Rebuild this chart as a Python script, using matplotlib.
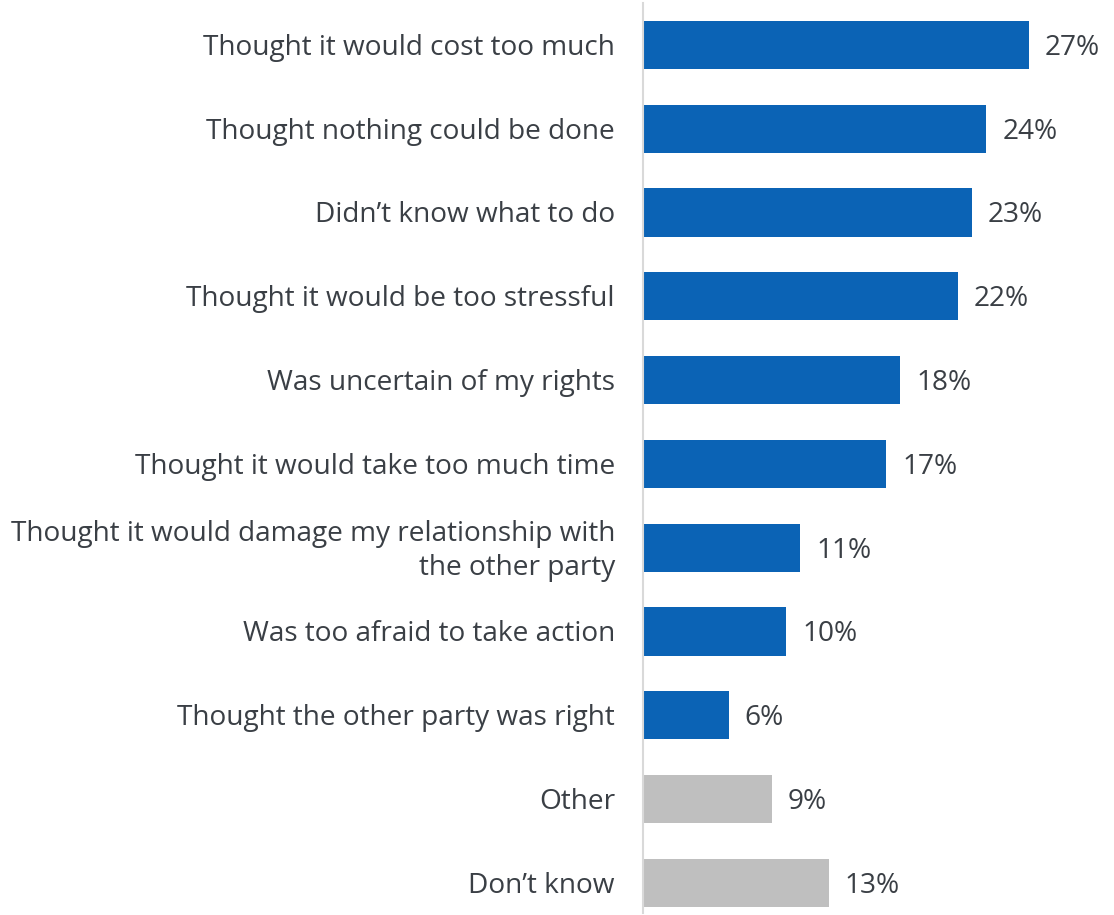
import matplotlib
matplotlib.use("Agg")
import matplotlib.pyplot as plt

categories = [
    "Thought it would cost too much",
    "Thought nothing could be done",
    "Didn\u2019t know what to do",
    "Thought it would be too stressful",
    "Was uncertain of my rights",
    "Thought it would take too much time",
    "Thought it would damage my relationship with\nthe other party",
    "Was too afraid to take action",
    "Thought the other party was right",
    "Other",
    "Don\u2019t know",
]
values = [27, 24, 23, 22, 18, 17, 11, 10, 6, 9, 13]
value_labels = ["27%", "24%", "23%", "22%", "18%", "17%", "11%", "10%", "6%", "9%", "13%"]
is_other = [False] * 9 + [True, True]

BLUE = "#0B63B5"
GREY = "#BFBFBF"
TEXT = "#3A3F45"
FS = 20.2

plt.rcParams['font.family'] = ['Open Sans', 'DejaVu Sans']

W, H = 1114, 915
fig = plt.figure(figsize=(W / 100, H / 100), dpi=100)
ax_left, ax_top, ax_bottom = 643, 3, 913
ax = fig.add_axes([ax_left / W, 1 - ax_bottom / H, (W - ax_left) / W, (ax_bottom - ax_top) / H])

pos = list(range(len(categories)))
colors = [GREY if o else BLUE for o in is_other]
ax.barh(pos, values, height=0.575, color=colors, left=0)
ax.set_ylim(10.36, -0.5)
ax.set_xlim(0, (W - ax_left) / 14.3)

for p, v, lab in zip(pos, values, value_labels):
    ax.annotate(lab, (v, p), xytext=(16, -3), textcoords="offset pixels",
                va="center", ha="left", fontsize=FS, color=TEXT)

ytrans = ax.get_yaxis_transform()
for p, cat in zip(pos, categories):
    ax.annotate(cat, (0, p), xycoords=ytrans, xytext=(-28, -3), textcoords="offset pixels",
                va="center", ha="right", multialignment="right",
                fontsize=FS, color=TEXT, linespacing=1.3, annotation_clip=False)

ax.set_yticks([])
ax.set_xticks([])
for s in ["top", "right", "bottom"]:
    ax.spines[s].set_visible(False)
ax.spines["left"].set_color("#D9D9D9")
ax.spines["left"].set_linewidth(1.5)

fig.savefig("out.png", dpi=100)
